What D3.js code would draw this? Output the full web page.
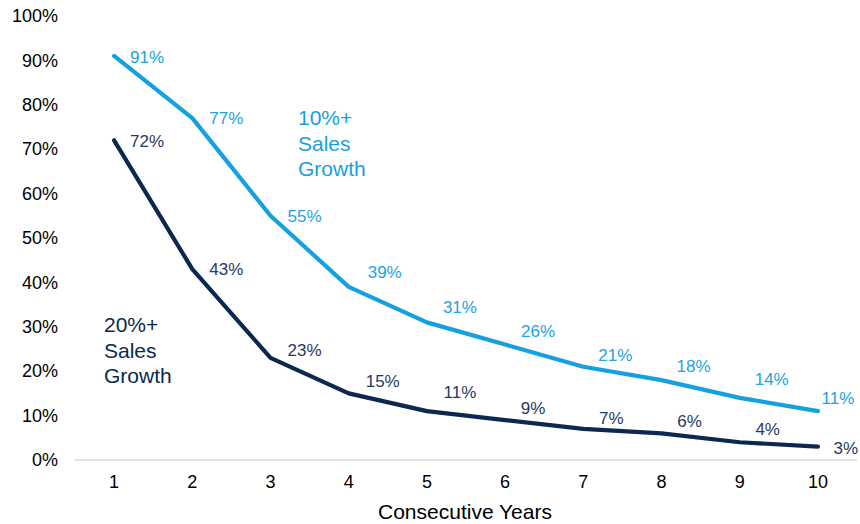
<!DOCTYPE html>
<html>
<head>
<meta charset="utf-8">
<script src="https://cdn.jsdelivr.net/npm/d3@7"></script>
<style>
  html, body { margin: 0; padding: 0; background: #fff; }
  svg { display: block; font-family: "Liberation Sans", Arial, sans-serif; }
</style>
</head>
<body>
<svg id="chart" width="860" height="524"></svg>
<script>
// ---- data ----
const years = [1, 2, 3, 4, 5, 6, 7, 8, 9, 10];
const growth10 = [91, 77, 55, 39, 31, 26, 21, 18, 14, 11];
const growth20 = [72, 43, 23, 15, 11, 9, 7, 6, 4, 3];
const yTicks = [0, 10, 20, 30, 40, 50, 60, 70, 80, 90, 100];
const seriesNames = [["10%+", "Sales", "Growth"], ["20%+", "Sales", "Growth"]];
const xTitle = "Consecutive Years";

// ---- layout / style ----
const W = 860, H = 524;
const m = { left: 75, right: 3, top: 16, bottom: 64 };
const colors = ["#17A0DF", "#0B2850"];
const labelColors = ["#22A3E0", "#1F3A64"];
// label nudges (dx, dy) relative to each point
const nudge10 = [[33,1],[34,0],[34,0],[36,-15],[33,-15],[33,-14],[32,-12],[32,-14],[32,-19],[20,-13]];
const nudge20 = [[33,1],[34,0],[34,-8],[34,-12],[33,-19],[28,-12],[28,-11],[28,-12],[28,-13],[28,1]];

const svg = d3.select("#chart");

const x = d3.scaleBand().domain(years).range([m.left, W - m.right]).paddingInner(0).paddingOuter(0);
const y = d3.scaleLinear().domain([0, 100]).range([H - m.bottom, m.top]);
const cx = d => x(d) + x.bandwidth() / 2;

// baseline
svg.append("line")
  .attr("x1", m.left).attr("x2", W - m.right)
  .attr("y1", y(0)).attr("y2", y(0))
  .attr("stroke", "#D9D9D9").attr("stroke-width", 1.5);

// y axis labels
const yAxis = d3.axisLeft(y).tickValues(yTicks).tickFormat(d => d + "%").tickSize(0).tickPadding(0);
const gy = svg.append("g").attr("transform", `translate(58,0)`).call(yAxis);
gy.select(".domain").remove();
gy.selectAll("text").attr("font-size", 18).attr("fill", "#000")
  .attr("font-family", "Liberation Sans, Arial, sans-serif");

// x axis labels
const xAxis = d3.axisBottom(x).tickSize(0).tickPadding(0);
const gx = svg.append("g").attr("transform", `translate(0,${y(0) + 15})`).call(xAxis);
gx.select(".domain").remove();
gx.selectAll("text").attr("font-size", 18).attr("fill", "#000")
  .attr("font-family", "Liberation Sans, Arial, sans-serif");

// x title
svg.append("text")
  .attr("x", 465).attr("y", 519)
  .attr("text-anchor", "middle").attr("font-size", 21).attr("fill", "#000")
  .text(xTitle);

const line = d3.line().x((d, i) => cx(years[i])).y(d => y(d)).curve(d3.curveLinear);

[[growth10, nudge10], [growth20, nudge20]].forEach(([vals, nudge], si) => {
  svg.append("path")
    .datum(vals)
    .attr("d", line)
    .attr("fill", "none")
    .attr("stroke", colors[si])
    .attr("stroke-width", 4.2)
    .attr("stroke-linejoin", "round")
    .attr("stroke-linecap", "round");

  svg.append("g").selectAll("text")
    .data(vals)
    .join("text")
    .attr("x", (d, i) => cx(years[i]) + nudge[i][0])
    .attr("y", (d, i) => y(d) + nudge[i][1])
    .attr("dy", "0.35em")
    .attr("text-anchor", "middle")
    .attr("font-size", 17)
    .attr("fill", labelColors[si])
    .text(d => d + "%");
});

// series name annotations
const annot = [
  { lines: seriesNames[0], x: 298, y: 118, color: colors[0] },
  { lines: seriesNames[1], x: 104, y: 325, color: colors[1] }
];
annot.forEach(a => {
  const t = svg.append("text")
    .attr("x", a.x).attr("y", a.y)
    .attr("font-size", 21).attr("fill", a.color);
  a.lines.forEach((s, i) => {
    t.append("tspan").attr("x", a.x).attr("dy", i === 0 ? "0.35em" : 25.5).text(s);
  });
});
</script>
</body>
</html>
